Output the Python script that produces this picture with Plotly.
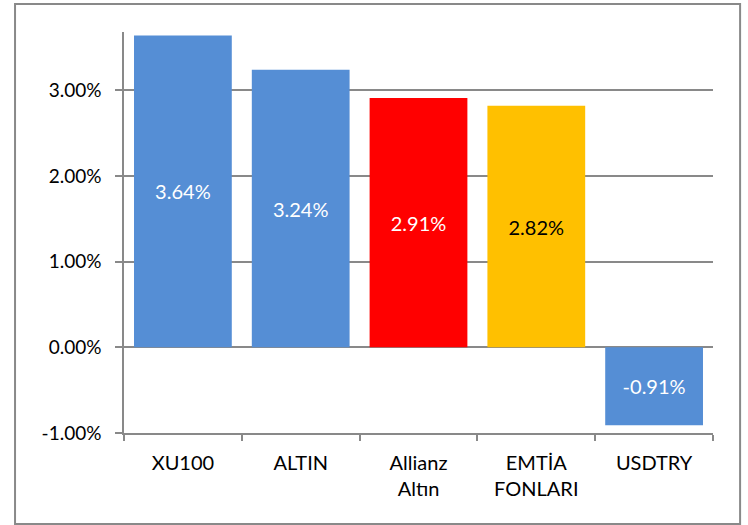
import plotly.graph_objects as go

categories = ["XU100", "ALTIN", "Allianz<br>Altın", "EMTİA<br>FONLARI", "USDTRY"]
values = [0.0364, 0.0324, 0.0291, 0.0282, -0.0091]
bar_colors = ["#558ED5", "#558ED5", "#FF0000", "#FFC000", "#558ED5"]
text_colors = ["white", "white", "white", "black", "white"]
y_ticks = [-0.01, 0.0, 0.01, 0.02, 0.03]
y_tick_labels = ["-1.00%", "0.00%", "1.00%", "2.00%", "3.00%"]

FONT = "Lato, Open Sans, sans-serif"
GRID = "#898989"

fig = go.Figure(
    go.Bar(
        x=categories,
        y=values,
        marker=dict(color=bar_colors, line=dict(width=0)),
        text=[f"{v*100:.2f}%" for v in values],
        textposition="inside",
        insidetextanchor="middle",
        textangle=0,
        textfont=dict(family=FONT, size=20, color=text_colors),
        width=0.83,
        hoverinfo="skip",
    )
)

fig.update_layout(
    width=748,
    height=525,
    margin=dict(l=124, r=35, t=32, b=92),
    paper_bgcolor="white",
    plot_bgcolor="white",
    showlegend=False,
    uniformtext=dict(minsize=20, mode="show"),
    font=dict(family=FONT, size=20, color="black"),
    xaxis=dict(
        showline=True,
        linecolor=GRID,
        linewidth=1.5,
        ticks="outside",
        tickson="boundaries",
        ticklen=6,
        tickcolor=GRID,
        tickwidth=1.5,
        showgrid=False,
        tickfont=dict(family=FONT, size=20, color="black"),
        ticklabelstandoff=11,
    ),
    yaxis=dict(
        range=[-0.01, 0.0368],
        tickvals=y_ticks,
        ticktext=y_tick_labels,
        showline=True,
        linecolor=GRID,
        linewidth=1.5,
        ticks="outside",
        ticklen=7,
        tickcolor=GRID,
        tickwidth=1.5,
        showgrid=True,
        gridcolor=GRID,
        gridwidth=1.5,
        zeroline=False,
        tickfont=dict(family=FONT, size=19, color="black"),
        ticklabelstandoff=10,
    ),
    shapes=[
        dict(
            type="rect",
            xref="paper",
            yref="paper",
            x0=-0.185,
            x1=1.046,
            y0=-0.227,
            y1=1.0698,
            line=dict(color=GRID, width=2),
            fillcolor="rgba(0,0,0,0)",
        )
    ],
)

fig.write_html(
    "out.html",
    config={"displayModeBar": False},
    post_script="document.body.style.margin='0';document.body.style.overflow='hidden';",
)
